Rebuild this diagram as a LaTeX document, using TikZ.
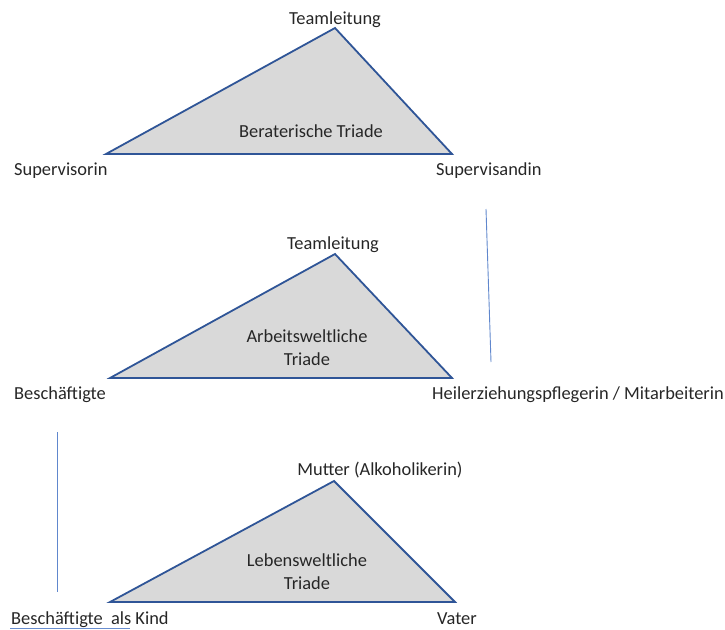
\documentclass[tikz,border=0pt]{standalone}
\usepackage{fontspec}
\setmainfont{Carlito}
\definecolor{triedge}{HTML}{2F5597}
\definecolor{trifill}{HTML}{D9D9D9}
\definecolor{linkblue}{HTML}{4472C4}
\begin{document}
\begin{tikzpicture}[x=1pt,y=-1pt,
  triangle/.style={draw=triedge,fill=trifill,line width=1.8pt,line join=miter},
  link/.style={draw=linkblue!85,line width=0.9pt},
  lbl/.style={inner sep=0pt,font=\fontsize{18.4}{22}\selectfont,text=black!85}]
\useasboundingbox (0,0) rectangle (725,629);

% Beraterische Triade
\coordinate (b1) at (106,154);
\coordinate (b2) at (335,28);
\coordinate (b3) at (452,154);
\path[triangle] (b1) -- (b2) -- (b3) -- cycle;
\node[lbl,anchor=base] (bTop) at (335,24) {Teamleitung};
\node[lbl,anchor=base west] (bLeft) at (14,175) {Supervisorin};
\node[lbl,anchor=base west] (bRight) at (436,175) {Supervisandin};
\node[lbl,anchor=base] (bName) at (311,137) {Beraterische Triade};

% Arbeitsweltliche Triade
\coordinate (a1) at (110,378);
\coordinate (a2) at (335,254);
\coordinate (a3) at (452,378);
\path[triangle] (a1) -- (a2) -- (a3) -- cycle;
\node[lbl,anchor=base] (aTop) at (333,249) {Teamleitung};
\node[lbl,anchor=base west] (aLeft) at (14,399) {Beschäftigte};
\node[lbl,anchor=base west] (aRight) at (432,399) {Heilerziehungspflegerin / Mitarbeiterin};
\node[lbl,anchor=base] (aName1) at (307,342) {Arbeitsweltliche};
\node[lbl,anchor=base] (aName2) at (307,365) {Triade};

% Lebensweltliche Triade
\coordinate (l1) at (110,602);
\coordinate (l2) at (334,481);
\coordinate (l3) at (455,602);
\path[triangle] (l1) -- (l2) -- (l3) -- cycle;
\node[lbl,anchor=base] (lTop) at (380,475) {Mutter (Alkoholikerin)};
\node[lbl,anchor=base west] (lLeft) at (11,624) {Beschäftigte\ \ als Kind};
\node[lbl,anchor=base west] (lRight) at (437,624) {Vater};
\node[lbl,anchor=base] (lName1) at (307,566) {Lebensweltliche};
\node[lbl,anchor=base] (lName2) at (307,589) {Triade};

% links between the triads
\coordinate (s1) at (486,209);
\coordinate (s2) at (491,362);
\draw[link] (s1) -- (s2);
\coordinate (t1) at (57,432);
\coordinate (t2) at (57,592);
\draw[link] (t1) -- (t2);

% underline below the last label
\coordinate (u1) at (10,628);
\coordinate (u2) at (130,628);
\draw[draw=linkblue!80,line width=1pt] (u1) -- (u2);
\end{tikzpicture}
\end{document}
